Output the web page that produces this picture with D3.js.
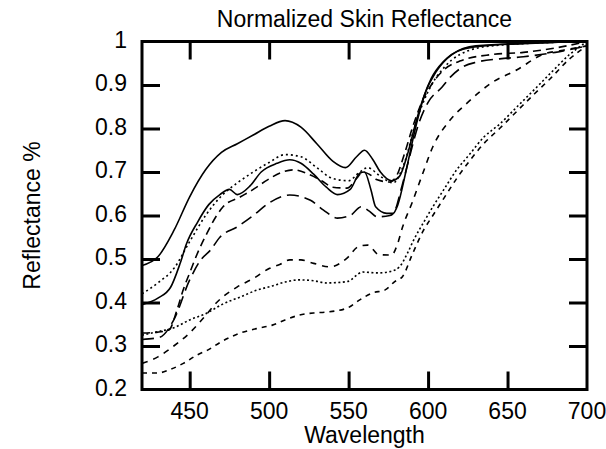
<!DOCTYPE html>
<html>
<head>
<meta charset="utf-8">
<script src="https://cdn.jsdelivr.net/npm/d3@7"></script>
<style>
  body { margin: 0; background: #fff; }
  text { font-family: "Liberation Sans", Arial, sans-serif; fill: #000; }
</style>
</head>
<body>
<svg id="chart" width="606" height="449"></svg>
<script>
// tick labels
var xTicks = [450, 500, 550, 600, 650, 700];
var yTicks = [0.2, 0.3, 0.4, 0.5, 0.6, 0.7, 0.8, 0.9, 1];

// series (wavelength nm, reflectance)
var wA = [420,430,440,450,460,470,480,490,500,510,520,530,540,548,555,560,565,570,577,582,587,592,597,602,610,620,635,660,700];
var rA = [0.485,0.505,0.565,0.643,0.705,0.745,0.765,0.785,0.805,0.818,0.803,0.765,0.725,0.71,0.735,0.75,0.73,0.70,0.68,0.69,0.74,0.81,0.87,0.915,0.955,0.98,0.99,0.995,1.0];

var wB = [420,430,440,450,460,470,480,490,500,510,520,530,540,550,557,562,570,578,585,592,600,610,620,640,700];
var rB = [0.42,0.445,0.478,0.54,0.60,0.645,0.675,0.70,0.722,0.74,0.735,0.71,0.685,0.68,0.70,0.71,0.69,0.675,0.72,0.81,0.885,0.94,0.97,0.99,1.0];

var wC = [420,430,438,444,448,455,462,469,475,480,488,495,505,513,520,528,536,543,551,557,560,564,567,574,578,581,586,592,598,605,615,630,700];
var rC = [0.395,0.41,0.435,0.49,0.535,0.585,0.625,0.648,0.66,0.648,0.668,0.70,0.72,0.728,0.72,0.695,0.665,0.648,0.66,0.697,0.70,0.66,0.62,0.605,0.605,0.625,0.70,0.80,0.88,0.93,0.97,0.99,1.0];

var wD = [420,430,437,442,446,450,455,461,467,471,482,490,499,507,515,526,533,540,549,555,559,563,568,576,580,585,590,596,602,610,620,640,660,680,700];
var rD = [0.33,0.332,0.337,0.383,0.43,0.468,0.514,0.56,0.60,0.62,0.643,0.66,0.682,0.698,0.705,0.693,0.68,0.665,0.663,0.685,0.70,0.695,0.682,0.677,0.69,0.74,0.80,0.86,0.90,0.935,0.955,0.97,0.975,0.985,1.0];

var wE = [420,431,440,450,457,463,469,480,490,500,513,526,534,543,551,558,563,568,576,579,583,588,594,600,609,614,622,631,645,660,680,700];
var rE = [0.315,0.32,0.36,0.452,0.498,0.52,0.55,0.574,0.60,0.629,0.647,0.635,0.613,0.594,0.60,0.62,0.61,0.597,0.60,0.61,0.66,0.73,0.81,0.86,0.896,0.918,0.942,0.953,0.96,0.965,0.975,0.99];

var wF = [420,430,440,450,460,467,480,490,500,507,513,520,528,538,549,556,562,569,577,581,584,590,596,603,614,625,640,656,672,685,700];
var rF = [0.26,0.275,0.30,0.33,0.37,0.40,0.436,0.455,0.478,0.488,0.498,0.498,0.49,0.482,0.502,0.528,0.532,0.51,0.509,0.537,0.574,0.63,0.69,0.758,0.82,0.86,0.905,0.935,0.97,0.98,0.99];

var wG = [420,430,440,450,461,470,482,492,502,510,519,528,536,549,559,568,576,582,587,591,597,603,610,618,626,635,645,656,667,677,689,700];
var rG = [0.325,0.333,0.342,0.36,0.376,0.395,0.413,0.428,0.438,0.447,0.452,0.45,0.445,0.448,0.47,0.468,0.471,0.482,0.513,0.544,0.583,0.62,0.66,0.705,0.74,0.78,0.81,0.85,0.89,0.927,0.97,1.0];

var wH = [420,430,437,446,455,461,470,482,492,502,510,519,528,536,549,557,565,573,579,584,590,597,603,610,618,626,635,645,656,667,677,689,700];
var rH = [0.238,0.238,0.245,0.26,0.28,0.29,0.31,0.33,0.34,0.348,0.36,0.371,0.376,0.378,0.387,0.406,0.422,0.429,0.448,0.46,0.51,0.565,0.60,0.64,0.685,0.725,0.765,0.80,0.84,0.88,0.915,0.96,0.99];

var series = [
  {w: wA, r: rA, dash: null},
  {w: wB, r: rB, dash: "2,3"},
  {w: wC, r: rC, dash: null},
  {w: wD, r: rD, dash: "8,5"},
  {w: wE, r: rE, dash: "12,6"},
  {w: wF, r: rF, dash: "6,6"},
  {w: wG, r: rG, dash: "2,2.5"},
  {w: wH, r: rH, dash: "5,5"}
];

var svg = d3.select("#chart");
var pLeft = 142, pRight = 587, pTop = 41.5, pBottom = 389.5;

var x = d3.scaleLinear().domain([420, 700]).range([pLeft, pRight]);
var y = d3.scaleLinear().domain([0.2, 1]).range([pBottom, pTop]);

var line = d3.line()
    .x(function(d){ return x(d[0]) })
    .y(function(d){ return y(d[1]) })
    .curve(d3.curveMonotoneX);

svg.append("clipPath").attr("id", "clip")
  .append("rect").attr("x", pLeft).attr("y", pTop).attr("width", pRight-pLeft).attr("height", pBottom-pTop);

var g = svg.append("g").attr("clip-path", "url(#clip)");
series.forEach(function(s){
    var pts = s.w.map(function(w, i){ return [w, s.r[i]] });
    g.append("path")
      .datum(pts)
      .attr("d", line)
      .attr("fill", "none")
      .attr("stroke", "#000")
      .attr("stroke-width", 1.6)
      .attr("stroke-dasharray", s.dash);
});

// axes: ticks inside, mirrored on all sides
var tl = 18;
var innerX = xTicks.filter(function(t){ return t < 700 });
var innerY = yTicks.filter(function(t){ return t > 0.2 && t < 1 });

svg.append("g").attr("transform", "translate(0," + pBottom + ")")
  .call(d3.axisTop(x).tickValues(innerX).tickSize(tl).tickFormat(""));
svg.append("g").attr("transform", "translate(0," + pTop + ")")
  .call(d3.axisBottom(x).tickValues(innerX).tickSize(tl).tickFormat(""));
svg.append("g").attr("transform", "translate(" + pLeft + ",0)")
  .call(d3.axisRight(y).tickValues(innerY).tickSize(tl).tickFormat(""));
svg.append("g").attr("transform", "translate(" + pRight + ",0)")
  .call(d3.axisLeft(y).tickValues(innerY).tickSize(tl).tickFormat(""));

svg.selectAll(".domain").remove();
svg.selectAll(".tick line").attr("stroke", "#000").attr("stroke-width", 3);

svg.append("rect")
  .attr("x", pLeft).attr("y", pTop)
  .attr("width", pRight-pLeft).attr("height", pBottom-pTop)
  .attr("fill", "none").attr("stroke", "#000").attr("stroke-width", 3);

// tick labels
svg.selectAll(".xl").data(xTicks).enter().append("text")
  .attr("x", function(d){ return x(d) })
  .attr("y", 419)
  .attr("text-anchor", "middle")
  .style("font-size", "23px")
  .text(function(d){ return d });

svg.selectAll(".yl").data(yTicks).enter().append("text")
  .attr("x", 127)
  .attr("y", function(d){ return y(d) + 6 })
  .attr("text-anchor", "end")
  .style("font-size", "23px")
  .text(function(d){ return d });

svg.append("text")
  .attr("x", (pLeft+pRight)/2).attr("y", 443)
  .attr("text-anchor", "middle")
  .style("font-size", "23px")
  .text("Wavelength");

svg.append("text")
  .attr("transform", "translate(40," + (pTop+pBottom)/2 + ") rotate(-90)")
  .attr("text-anchor", "middle")
  .style("font-size", "23px")
  .text("Reflectance %");

svg.append("text")
  .attr("x", (pLeft+pRight)/2).attr("y", 27)
  .attr("text-anchor", "middle")
  .style("font-size", "23px")
  .text("Normalized Skin Reflectance");
</script>
</body>
</html>
